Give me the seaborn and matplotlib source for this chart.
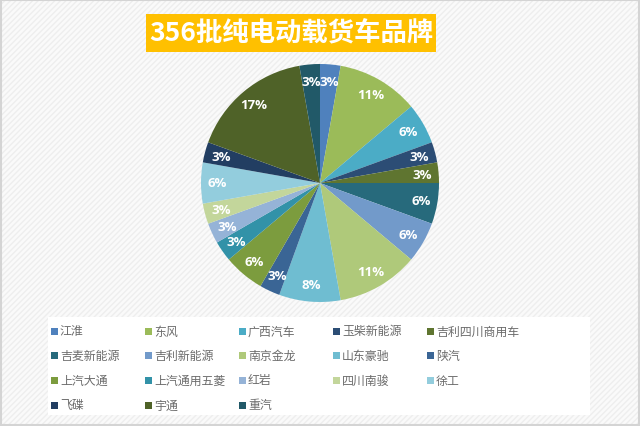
import matplotlib
matplotlib.use('Agg')
from matplotlib import pyplot as plt
from matplotlib.patches import Rectangle
import seaborn as sns

brands = ['江淮', '东风', '广西汽车', '玉柴新能源', '吉利四川商用车',
          '吉麦新能源', '吉利新能源', '南京金龙', '山东豪驰', '陕汽',
          '上汽大通', '上汽通用五菱', '红岩', '四川南骏', '徐工',
          '飞碟', '宇通', '重汽']
counts = [1, 4, 2, 1, 1, 2, 2, 4, 3, 1, 2, 1, 1, 1, 2, 1, 6, 1]
colors = ['#4F81BD', '#9BBB59', '#4BACC6', '#2C4D75', '#5F7530',
          '#276A7C', '#729ACA', '#AFC97A', '#6FBDD1', '#3A6595',
          '#7C9C3E', '#3292A8', '#95B3D7', '#C3D69B', '#93CDDD',
          '#223E62', '#4F6228', '#215968']
title = '356批纯电动载货车品牌'

sns.set_style('white')
plt.rcParams['font.family'] = ['Noto Sans CJK SC', 'DejaVu Sans']

W, H = 640, 427
fig = plt.figure(figsize=(6.4, 4.27), dpi=100)
fig.patch.set_facecolor('#ffffff')

# hatched background + border
fig.patches.append(Rectangle((0, 0), 1, 1, transform=fig.transFigure,
                             facecolor='#fafafa', edgecolor='#eeeeee',
                             hatch='//////', linewidth=0, zorder=-3))
fig.patches.append(Rectangle((0.001, 0.003), 0.997, 0.994, transform=fig.transFigure,
                             facecolor='none', edgecolor='#d4d4d4',
                             linewidth=1.5, zorder=-2))

# pie
cx, cy, r = 320, 184, 119
ax = fig.add_axes([(cx - r) / W, (H - cy - r) / H, 2 * r / W, 2 * r / H])
pal = sns.color_palette(colors)
wedges, texts, autotexts = ax.pie(
    counts, colors=pal, startangle=90, counterclock=False,
    autopct='%1.0f%%', pctdistance=0.86, radius=1,
    wedgeprops=dict(linewidth=0),
    textprops=dict(color='white', fontsize=9.5, fontweight='bold',
                   family=['Open Sans', 'DejaVu Sans']))
ax.set_xlim(-1, 1)
ax.set_ylim(-1, 1)
ax.set_aspect('equal')
ax.axis('off')

# title in gold box
fig.patches.append(Rectangle((146 / W, 1 - 53 / H), 290 / W, 38 / H,
                             transform=fig.transFigure, facecolor='#FFC000',
                             edgecolor='none', zorder=1))
fig.text(291 / W, 1 - 34 / H, title, ha='center', va='center',
         color='white', fontsize=19, fontweight='bold', zorder=2)

# legend
fig.patches.append(Rectangle((48 / W, 1 - 416 / H), 542 / W, 98 / H,
                             transform=fig.transFigure, facecolor='white',
                             edgecolor='none', zorder=1))
col_x = [51, 145, 239, 333, 427]
row_y = [332, 356.5, 381, 406]
for i, (name, c) in enumerate(zip(brands, pal)):
    x = col_x[i % 5]
    y = row_y[i // 5]
    fig.patches.append(Rectangle((x / W, 1 - (y + 3.5) / H), 7 / W, 7 / H,
                                 transform=fig.transFigure, facecolor=c,
                                 edgecolor='none', zorder=2))
    fig.text((x + 9) / W, 1 - y / H, name, ha='left', va='center',
             color='#6b6b6b', fontsize=8.6, zorder=2)

plt.savefig('out.png', dpi=100, facecolor=fig.get_facecolor())
